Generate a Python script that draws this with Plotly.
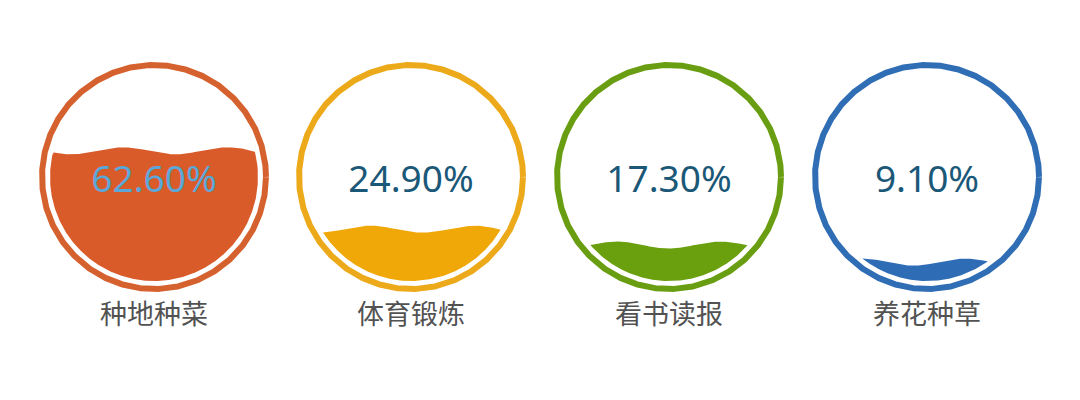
import numpy as np
import plotly.graph_objects as go

# data
categories = ["种地种菜", "体育锻炼", "看书读报", "养花种草"]
values = [62.6, 24.9, 17.3, 9.1]
ring_colors = ["#D5612F", "#ECA91A", "#6A9E12", "#2F6DB5"]
fill_colors = ["#D85B29", "#F0A708", "#6A9F0E", "#2E6CB5"]
wave_phase = [0.3, 0.9, 1.6, 2.4]

# layout in pixels
centers_x = [154, 411, 669, 927]
cy = 177
ring_r = 112
fill_r = 104
wave_len = 104
wave_amp = 3.5

fig = go.Figure()

t = np.linspace(0, 2 * np.pi, 1441)
for i, cat in enumerate(categories):
    cx = centers_x[i]
    # outer ring
    fig.add_trace(go.Scatter(
        x=cx + ring_r * np.cos(t), y=cy + ring_r * np.sin(t),
        mode="lines", line=dict(color=ring_colors[i], width=6),
        hoverinfo="skip", showlegend=False))

    # liquid with wavy surface
    level = cy + fill_r - 2 * fill_r * values[i] / 100
    xs = np.linspace(cx - fill_r, cx + fill_r, 800)
    dx = xs - cx
    half = np.sqrt(np.clip(fill_r ** 2 - dx ** 2, 0, None))
    wave = level + wave_amp * np.sin(2 * np.pi * dx / wave_len + wave_phase[i])
    top = np.maximum(wave, cy - half)
    bot = cy + half
    ok = top < bot
    xs, top, bot = xs[ok], top[ok], bot[ok]
    px = np.concatenate([xs, xs[::-1]])
    py = np.concatenate([top, bot[::-1]])
    fig.add_trace(go.Scatter(
        x=px, y=py, mode="lines", fill="toself",
        fillcolor=fill_colors[i], line=dict(width=0),
        hoverinfo="skip", showlegend=False))

    # percentage text
    txt_color = "#5BA7D8" if level < cy + 4 else "#1B5878"
    fig.add_trace(go.Scatter(
        x=[cx], y=[183], mode="text",
        text=["%.2f%%" % values[i]],
        textfont=dict(family="Noto Sans", size=37, color=txt_color),
        hoverinfo="skip", showlegend=False))

    # category label
    fig.add_trace(go.Scatter(
        x=[cx], y=[317], mode="text", text=[cat],
        textfont=dict(family="Noto Sans CJK SC", size=27, color="#525252"),
        hoverinfo="skip", showlegend=False))

# the page body has an 8px margin, so the ranges are offset by 8
fig.update_layout(
    width=1080, height=400,
    margin=dict(l=0, r=0, t=0, b=0),
    paper_bgcolor="white", plot_bgcolor="white",
    xaxis=dict(range=[8, 1088], visible=False, fixedrange=True),
    yaxis=dict(range=[408, 8], visible=False, fixedrange=True),
)

fig.write_html("out.html")
